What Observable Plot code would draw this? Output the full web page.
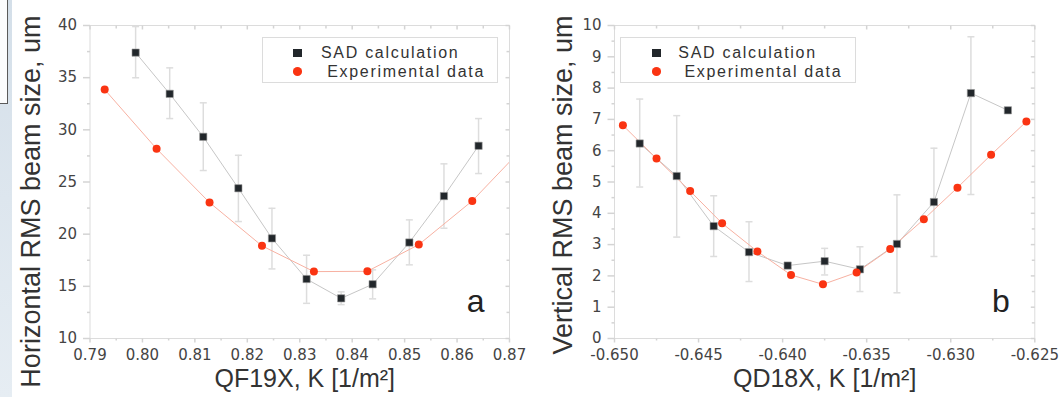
<!DOCTYPE html>
<html>
<head>
<meta charset="utf-8">
<script src="https://cdn.jsdelivr.net/npm/d3@7"></script>
<script src="https://cdn.jsdelivr.net/npm/@observablehq/plot@0.6"></script>
<style>
html, body { margin: 0; padding: 0; background: #fff; }
#wrap { position: relative; width: 1063px; height: 397px; overflow: hidden; background: #fff; }
.panel { position: absolute; top: 0; }
.band { position: absolute; left: 0; top: 0; width: 12px; height: 397px; background: linear-gradient(#d4dfe9, #e6edf3); }
.box { position: absolute; left: -2px; top: -2px; width: 8px; height: 104px; border: 1px solid #5a5a5a; background: #fbfcfd; }
.legend { position: absolute; border: 1px solid #dcdcdc; background: #fff; font-family: "Liberation Sans", Arial, sans-serif; font-size: 16px; letter-spacing: 1.7px; color: #333; box-sizing: border-box; }
.legend .txt { position: absolute; white-space: pre; line-height: 16px; }
.legend .mk { position: absolute; }
</style>
</head>
<body>
<div id="wrap">
  <div class="band"></div>
  <div class="box"></div>
</div>
<script>
// ---------- data ----------
const seriesNames = ["SAD calculation", " Experimental data"];

// Panel a: horizontal, QF19X
const aSadK    = [0.7987, 0.8052, 0.8116, 0.8183, 0.8247, 0.8313, 0.8379, 0.8439, 0.8509, 0.8575, 0.8641];
const aSadSize = [37.4, 33.45, 29.33, 24.4, 19.6, 15.7, 13.85, 15.2, 19.2, 23.65, 28.47];
const aSadLow  = [34.99, 31.08, 26.1, 21.21, 16.67, 13.37, 13.25, 13.8, 17.06, 20.57, 25.81];
const aSadHigh = [39.9, 35.94, 32.59, 27.56, 22.48, 17.98, 14.47, 16.58, 21.37, 26.74, 31.08];
const aExpK    = [0.7928, 0.8027, 0.8128, 0.8228, 0.8327, 0.8429, 0.8527, 0.8629, 0.8730];
const aExpSize = [33.86, 28.18, 23.03, 18.88, 16.41, 16.44, 19.0, 23.19, 28.5];
const aXTicks  = [0.79, 0.80, 0.81, 0.82, 0.83, 0.84, 0.85, 0.86, 0.87];
const aXMinor  = [0.795, 0.805, 0.815, 0.825, 0.835, 0.845, 0.855, 0.865];
const aYTicks  = [10, 15, 20, 25, 30, 35, 40];
const aYMinor  = [12.5, 17.5, 22.5, 27.5, 32.5, 37.5];

// Panel b: vertical, QD18X
const bSadK    = [-0.6485, -0.6463, -0.6441, -0.6420, -0.6397, -0.6375, -0.6354, -0.6332, -0.6310, -0.6288, -0.6266];
const bSadSize = [6.23, 5.19, 3.59, 2.76, 2.33, 2.47, 2.21, 3.02, 4.36, 7.84, 7.29];
const bSadLow  = [4.84, 3.24, 2.62, 1.82, null, 2.03, 1.5, 1.46, 2.62, 4.6, null];
const bSadHigh = [7.65, 7.12, 4.56, 3.73, null, 2.88, 2.93, 4.59, 6.08, 9.64, null];
const bExpK    = [-0.6495, -0.6475, -0.6455, -0.6436, -0.6415, -0.6395, -0.6376, -0.6356, -0.6336, -0.6316, -0.6296, -0.6276, -0.6255];
const bExpSize = [6.81, 5.75, 4.71, 3.68, 2.78, 2.03, 1.73, 2.11, 2.86, 3.81, 4.82, 5.87, 6.93];
const bXTicks  = [-0.650, -0.645, -0.640, -0.635, -0.630, -0.625];
const bXMinor  = [-0.6475, -0.6425, -0.6375, -0.6325, -0.6275];
const bYTicks  = [0, 1, 2, 3, 4, 5, 6, 7, 8, 9, 10];
const bYMinor  = [0.5, 1.5, 2.5, 3.5, 4.5, 5.5, 6.5, 7.5, 8.5, 9.5];

// ---------- symbols ----------
const capSym   = {draw(ctx, size) { const r = Math.sqrt(size / Math.PI); ctx.moveTo(-r, 0); ctx.lineTo(r, 0); }};
const tickDown = {draw(ctx, size) { const r = Math.sqrt(size / Math.PI); ctx.moveTo(0, 0); ctx.lineTo(0, r); }};
const tickLeft = {draw(ctx, size) { const r = Math.sqrt(size / Math.PI); ctx.moveTo(0, 0); ctx.lineTo(-r, 0); }};

const TICK = "#d4d4d4";
const SAD_FILL = "#22272b";
const EXP_FILL = "#fa3412";

function panel(cfg) {
  const sad = cfg.sadK.map((k, i) => ({k, v: cfg.sadSize[i], lo: cfg.sadLow[i], hi: cfg.sadHigh[i]}));
  const bars = sad.filter(d => d.lo != null);
  const exp = cfg.expK.map((k, i) => ({k, v: cfg.expSize[i]}));
  return Plot.plot({
    width: cfg.width,
    height: 397,
    marginLeft: cfg.marginLeft,
    marginRight: cfg.marginRight,
    marginTop: 25,
    marginBottom: 59,
    x: {domain: cfg.xDomain},
    y: {domain: cfg.yDomain},
    style: {fontFamily: "'DejaVu Sans', sans-serif", background: "transparent", color: "#444", overflow: "visible"},
    marks: [
      Plot.frame({stroke: "#dcdcdc"}),
      // outward ticks bottom / left
      Plot.dot(cfg.xTicks, {x: d => d, frameAnchor: "bottom", symbol: tickDown, r: 4, stroke: TICK, fill: "none"}),
      Plot.dot(cfg.xMinor, {x: d => d, frameAnchor: "bottom", symbol: tickDown, r: 2, stroke: TICK, fill: "none"}),
      Plot.dot(cfg.yTicks, {y: d => d, frameAnchor: "left", symbol: tickLeft, r: 7, stroke: TICK, fill: "none"}),
      Plot.dot(cfg.yMinor, {y: d => d, frameAnchor: "left", symbol: tickLeft, r: 3, stroke: TICK, fill: "none"}),
      // inward ticks top / right
      Plot.dot(cfg.xTicks, {x: d => d, frameAnchor: "top", symbol: tickDown, r: 4, stroke: TICK, fill: "none"}),
      Plot.dot(cfg.xMinor, {x: d => d, frameAnchor: "top", symbol: tickDown, r: 3, stroke: TICK, fill: "none"}),
      Plot.dot(cfg.yTicks, {y: d => d, frameAnchor: "right", symbol: tickLeft, r: 4, stroke: TICK, fill: "none"}),
      Plot.dot(cfg.yMinor, {y: d => d, frameAnchor: "right", symbol: tickLeft, r: 3, stroke: TICK, fill: "none"}),
      // tick labels
      Plot.axisX(cfg.xTicks, {tickSize: 0, tickPadding: 11, tickFormat: cfg.xFmt, fontSize: 15, fill: "#444", label: null}),
      Plot.axisY(cfg.yTicks, {tickSize: 0, tickPadding: 13, tickFormat: d => String(d), fontSize: 15, fill: "#444", label: null}),
      // error bars
      Plot.ruleX(bars, {x: "k", y1: "lo", y2: "hi", stroke: "#dddddd", strokeWidth: 1.5}),
      Plot.dot(bars, {x: "k", y: "lo", symbol: capSym, r: 3.5, stroke: "#dddddd", strokeWidth: 1.5, fill: "none"}),
      Plot.dot(bars, {x: "k", y: "hi", symbol: capSym, r: 3.5, stroke: "#dddddd", strokeWidth: 1.5, fill: "none"}),
      // connecting lines
      Plot.line(sad, {x: "k", y: "v", stroke: "#c6c6c6", strokeWidth: 1, clip: true}),
      Plot.line(exp, {x: "k", y: "v", stroke: "#f7b1a2", strokeWidth: 1, clip: true}),
      // markers
      Plot.dot(sad, {x: "k", y: "v", symbol: "square", r: 4.1, fill: SAD_FILL, stroke: "#9a9a9a", strokeWidth: 0.6}),
      Plot.dot(exp, {x: "k", y: "v", r: 4, fill: EXP_FILL, clip: true}),
      // titles
      Plot.text([cfg.yTitle], {text: d => d, frameAnchor: "top-left", rotate: -90, textAnchor: "end", dx: cfg.yTitleDx, dy: -10,
        fontSize: 27, fontFamily: "'Liberation Sans', Arial, sans-serif", fill: "#333"}),
      Plot.text([cfg.xTitle], {text: d => d, frameAnchor: "bottom", dx: cfg.xTitleDx, dy: 48, fontSize: 25,
        fontFamily: "'Liberation Sans', Arial, sans-serif", fill: "#333"}),
      Plot.text([cfg.letter], {text: d => d, frameAnchor: "bottom-right", textAnchor: "end", dx: -25, dy: -27, fontSize: 32,
        fontFamily: "'Liberation Sans', Arial, sans-serif", fill: "#222"})
    ]
  });
}

function legend(left, markerX, textX) {
  const el = document.createElement("div");
  el.className = "legend";
  Object.assign(el.style, {left: left + "px", top: "37px", width: "236px", height: "46px"});
  const rows = [
    {name: seriesNames[0], y: 14.7, tx: textX[0], mk: {w: 9, h: 8, bg: SAD_FILL, br: "0"}},
    {name: seriesNames[1], y: 33.7, tx: textX[1], mk: {w: 9.5, h: 8.5, bg: EXP_FILL, br: "50%"}}
  ];
  for (const r of rows) {
    const m = document.createElement("div");
    m.className = "mk";
    Object.assign(m.style, {left: (markerX - r.mk.w / 2) + "px", top: (r.y - r.mk.h / 2) + "px", width: r.mk.w + "px", height: r.mk.h + "px", background: r.mk.bg, borderRadius: r.mk.br});
    el.appendChild(m);
    const t = document.createElement("div");
    t.className = "txt";
    t.textContent = r.name;
    Object.assign(t.style, {left: r.tx + "px", top: (r.y - 8) + "px"});
    el.appendChild(t);
  }
  return el;
}

const wrap = document.getElementById("wrap");

const pa = panel({
  sadK: aSadK, sadSize: aSadSize, sadLow: aSadLow, sadHigh: aSadHigh,
  expK: aExpK, expSize: aExpSize,
  xDomain: [0.79, 0.87], yDomain: [10, 40],
  xTicks: aXTicks, xMinor: aXMinor, yTicks: aYTicks, yMinor: aYMinor,
  xFmt: d => d.toFixed(2),
  width: 530, marginLeft: 89.5, marginRight: 21,
  yTitle: "Horizontal RMS beam size, um", yTitleDx: -69,
  xTitle: "QF19X, K [1/m²]", xTitleDx: 5, letter: "a"
});
const da = document.createElement("div"); da.className = "panel"; da.style.left = "0px"; da.appendChild(pa); wrap.appendChild(da);

const pb = panel({
  sadK: bSadK, sadSize: bSadSize, sadLow: bSadLow, sadHigh: bSadHigh,
  expK: bExpK, expSize: bExpSize,
  xDomain: [-0.650, -0.625], yDomain: [0, 10],
  xTicks: bXTicks, xMinor: bXMinor, yTicks: bYTicks, yMinor: bYMinor,
  xFmt: d => d.toFixed(3),
  width: 533, marginLeft: 84, marginRight: 28.7,
  yTitle: "Vertical RMS beam size, um", yTitleDx: -62,
  xTitle: "QD18X, K [1/m²]", xTitleDx: 0, letter: "b"
});
const db = document.createElement("div"); db.className = "panel"; db.style.left = "530px"; db.appendChild(pb); wrap.appendChild(db);

wrap.appendChild(legend(262, 34.7, [58, 58]));
wrap.appendChild(legend(620, 35.3, [57.3, 57.3]));
</script>
</body>
</html>
